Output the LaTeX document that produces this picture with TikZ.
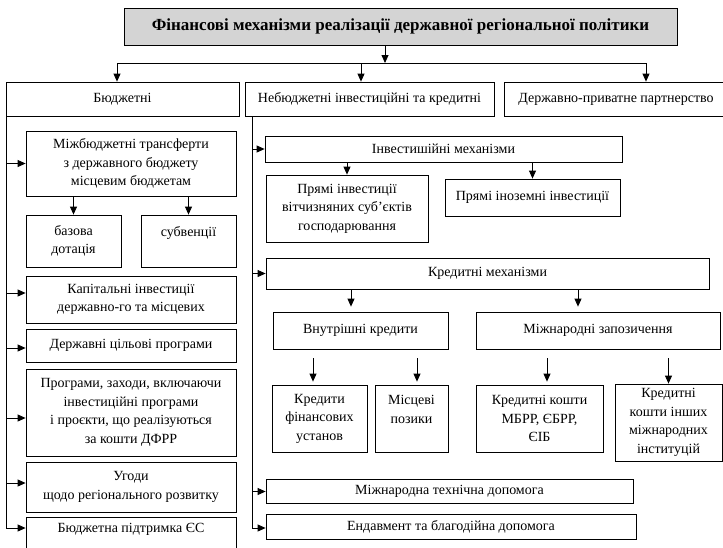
\documentclass[tikz,border=0pt]{standalone}
\usepackage{fontspec}
\setmainfont{Liberation Serif}
\usepackage{tikz}
\usetikzlibrary{arrows.meta}

\tikzset{
  box/.style={draw, line width=0.8pt, align=center, inner sep=2pt,
    font=\fontsize{14}{18.5}\selectfont},
  headbox/.style={box, fill=black!17, font=\fontsize{17}{20}\selectfont\bfseries},
}

\begin{document}
\begin{tikzpicture}[->, >={Triangle[length=8pt,width=7pt]}, line width=0.8pt, x=1pt, y=-1pt]

    \useasboundingbox (0,0) rectangle (723,547);

    % Top

    \node[headbox, minimum width=553pt, minimum height=37pt] (fin) at (400.5,26.5)
        {Фінансові механізми реалізації державної регіональної політики}; %

    \node[box, minimum width=233pt, minimum height=34pt] (budg) at (122.5,99) {Бюджетні}; %
    \node[box, minimum width=249pt, minimum height=34pt] (nonbudg) at (369.5,99)
        {Небюджетні інвестиційні та кредитні}; %
    \node[box, minimum width=224pt, minimum height=34pt] (ppp) at (616,99)
        {Державно-приватне партнерство}; %

    \coordinate (split) at (385,63);
    \coordinate (busL) at (117,63);
    \coordinate (busM) at (361,63);
    \coordinate (busR) at (646,63);

    \draw ([xshift=-15.5pt]fin.south) -- (split);
    \draw[-] (busL) -- (busR);
    \draw (busL) -- (busL |- budg.north);
    \draw (busM) -- (busM |- nonbudg.north);
    \draw (busR) -- (busR |- ppp.north);

    % Budget mechanisms

    \node[box, minimum width=210pt, minimum height=65pt] (mbt) at (131,163.5)
        {Міжбюджетні трансферти\\з державного бюджету\\місцевим бюджетам}; %
    \node[box, minimum width=95pt, minimum height=52pt] (bazova) at (73.5,241) {базова\\дотація}; %
    \node[box, minimum width=95pt, minimum height=52pt] (subv) at (188.5,241) {субвенції\\\mbox{}}; %
    \node[box, minimum width=210pt, minimum height=47pt] (kap) at (131,299.5)
        {Капітальні інвестиції\\державно-го та місцевих}; %
    \node[box, minimum width=210pt, minimum height=33pt] (dcp) at (131,345.5)
        {Державні цільові програми}; %
    \node[box, minimum width=210pt, minimum height=87pt] (prog) at (131,412.5)
        {Програми, заходи, включаючи\\інвестиційні програми\\і проєкти, що реалізуються\\за кошти ДФРР}; %
    \node[box, minimum width=210pt, minimum height=50pt] (ugody) at (131,487)
        {Угоди\\щодо регіонального розвитку}; %
    \node[box, minimum width=210pt, minimum height=40pt] (bpes) at (131,537)
        {Бюджетна підтримка ЄС\\\mbox{}}; %

    \draw (mbt.south -| bazova.north) -- (bazova.north);
    \draw (mbt.south -| subv.north) -- (subv.north);

    \coordinate (trunkL) at ([xshift=1pt]budg.south west);
    \draw (trunkL) |- (mbt.west);
    \draw (trunkL) |- ([yshift=6.5pt]kap.west);
    \draw (trunkL) |- ([yshift=-2.5pt]dcp.west);
    \draw (trunkL) |- ([yshift=-5.5pt]prog.west);
    \draw (trunkL) |- ([yshift=4pt]ugody.west);
    \draw (trunkL) |- ([yshift=9pt]bpes.west);

    % Investment mechanisms

    \node[box, minimum width=357pt, minimum height=26pt] (invm) at (443.5,149)
        {Інвестишійні механізми}; %
    \node[box, minimum width=162pt, minimum height=67pt] (pdi) at (347,208.5)
        {Прямі інвестиції\\вітчизняних суб’єктів\\господарювання}; %
    \node[box, minimum width=175pt, minimum height=37pt] (pfi) at (532.5,197.5)
        {Прямі іноземні інвестиції}; %

    \draw (invm.south -| pdi.north) -- (pdi.north);
    \draw (invm.south -| pfi.north) -- (pfi.north);

    % Credit mechanisms

    \node[box, minimum width=443pt, minimum height=31pt] (credm) at (487.5,273.5)
        {Кредитні механізми}; %
    \node[box, minimum width=175pt, minimum height=37pt] (vnk) at (360.5,330.5)
        {Внутрішні кредити}; %
    \node[box, minimum width=244pt, minimum height=37pt] (mz) at (598,330.5)
        {Міжнародні запозичення}; %

    \draw ([xshift=-9.5pt]vnk.north |- credm.south) -- ([xshift=-9.5pt,yshift=5pt]vnk.north);
    \draw ([xshift=-20pt]mz.north |- credm.south) -- ([xshift=-20pt,yshift=5pt]mz.north);

    \node[box, minimum width=95pt, minimum height=67pt] (kfu) at (319.5,418.5)
        {Кредити\\фінансових\\установ}; %
    \node[box, minimum width=73pt, minimum height=67pt] (mp) at (411.5,418.5)
        {Місцеві\\позики\\\mbox{}}; %
    \node[box, minimum width=127pt, minimum height=67pt] (kmb) at (539.5,418.5)
        {Кредитні кошти\\МБРР, ЄБРР,\\ЄІБ}; %
    \node[box, minimum width=107pt, minimum height=77pt] (kin) at (668.5,422.5)
        {Кредитні\\кошти інших\\міжнародних\\інституцій}; %

    \draw ([xshift=-6.5pt,yshift=-9pt]kfu.north |- vnk.south) -- ([xshift=-6.5pt,yshift=3pt]kfu.north);
    \draw ([xshift=5.5pt,yshift=-9pt]mp.north |- vnk.south) -- ([xshift=5.5pt,yshift=3pt]mp.north);
    \draw ([xshift=7.5pt,yshift=-9pt]kmb.north |- mz.south) -- ([xshift=7.5pt,yshift=3pt]kmb.north);
    \draw ([yshift=-9pt]kin.north |- mz.south) -- (kin.north);

    % Other

    \node[box, minimum width=367pt, minimum height=24pt] (mtd) at (449.5,491.5)
        {Міжнародна технічна допомога}; %
    \node[box, minimum width=370pt, minimum height=25pt] (endow) at (451,526.5)
        {Ендавмент та благодійна допомога}; %

    \coordinate (trunkM) at ([xshift=8pt]nonbudg.south west);
    \draw (trunkM) |- (invm.west);
    \draw (trunkM) |- (credm.west);
    \draw (trunkM) |- (mtd.west);
    \draw (trunkM) |- ([yshift=-1.5pt]endow.west);

\end{tikzpicture}
\end{document}
